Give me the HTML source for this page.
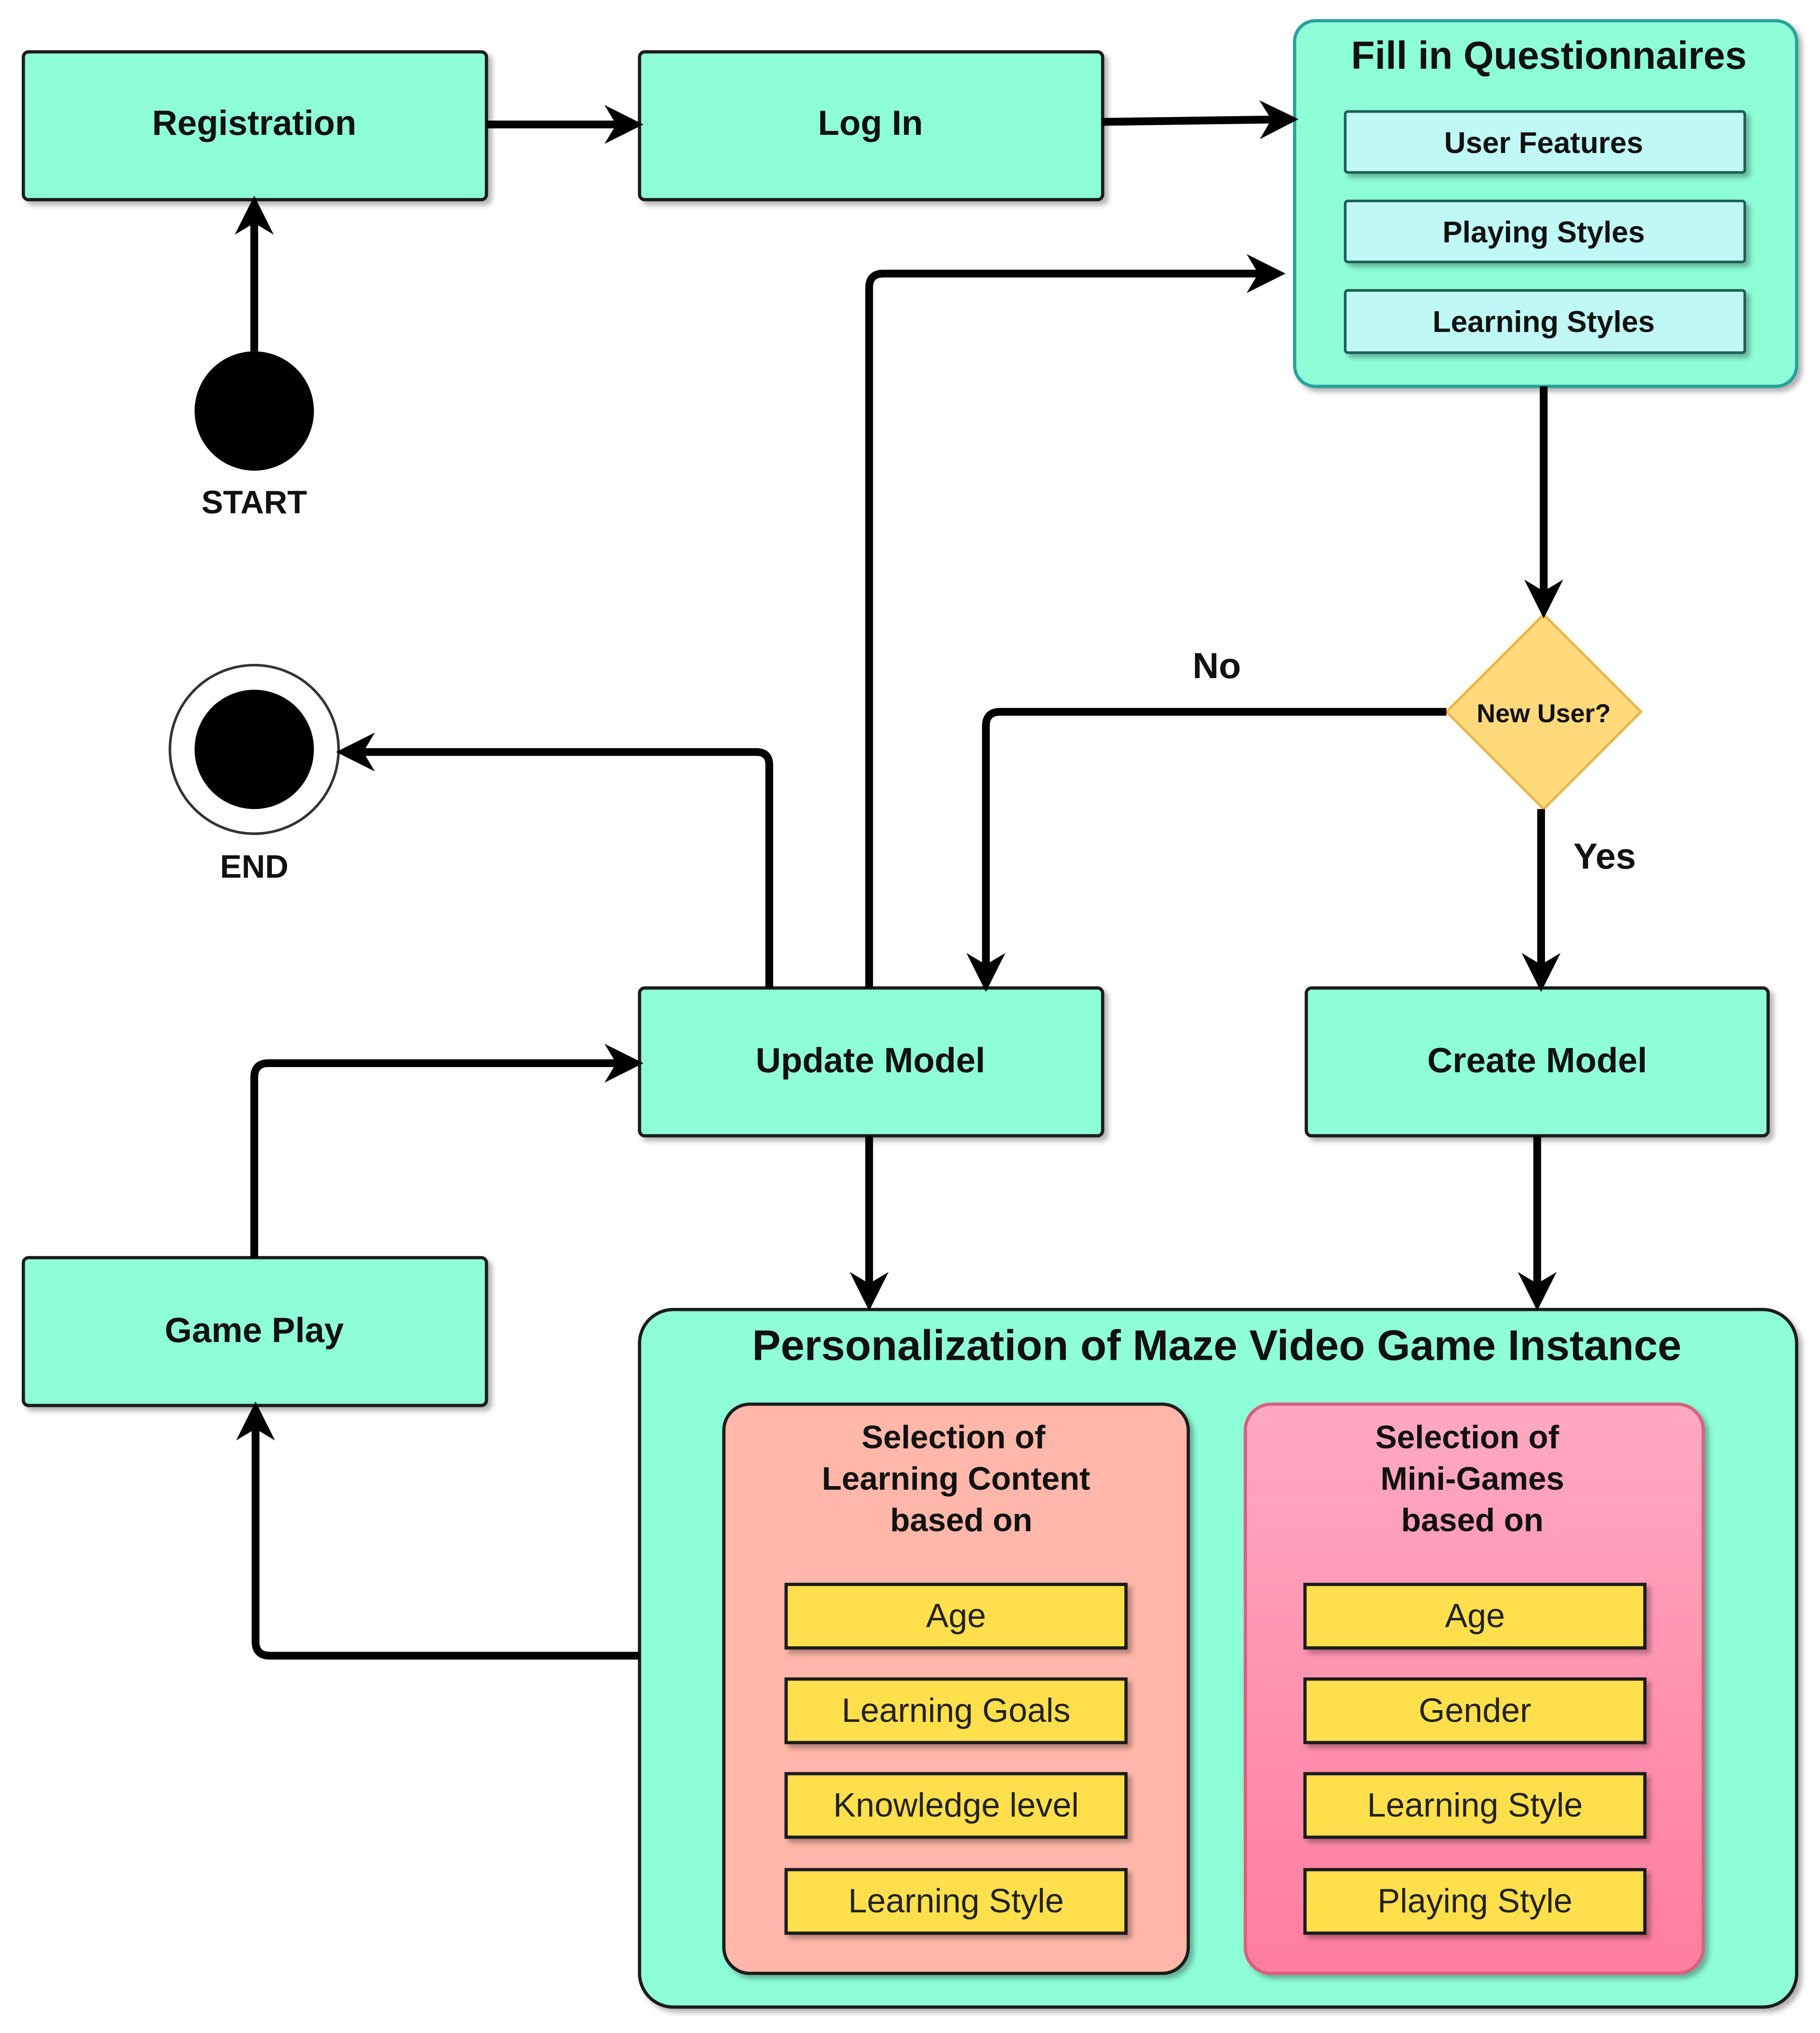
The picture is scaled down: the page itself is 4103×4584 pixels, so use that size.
<!DOCTYPE html>
<html><head><meta charset="utf-8"><style>html,body{margin:0;padding:0;background:#fff}svg{display:block}</style></head><body>
<svg width="4103" height="4584" viewBox="0 0 1403 1568" preserveAspectRatio="none" xmlns="http://www.w3.org/2000/svg" font-family="Liberation Sans, sans-serif">
<defs>
<marker id="a" viewBox="0 0 10 10" refX="8" refY="5" markerWidth="5" markerHeight="5" orient="auto" markerUnits="strokeWidth"><path d="M0,0 L10,5 L0,10 L3,5 z" fill="#000"/></marker>
<linearGradient id="pk" x1="0" y1="0" x2="0" y2="1"><stop offset="0" stop-color="#ffa9c1"/><stop offset="1" stop-color="#ff7d9e"/></linearGradient>
<filter id="s" x="-5%" y="-5%" width="112%" height="120%"><feDropShadow dx="3" dy="3" stdDeviation="2" flood-color="#000" flood-opacity="0.3"/></filter>
</defs>
<g filter="url(#s)" stroke="#1a1a1a" stroke-width="2.5" fill="#8efed8">
<rect x="18" y="40" width="357" height="114" rx="4"/>
<rect x="493" y="40" width="357" height="114" rx="4"/>
<rect x="493" y="762" width="357" height="114" rx="4"/>
<rect x="1007" y="762" width="356" height="114" rx="4"/>
<rect x="18" y="970" width="357" height="114" rx="4"/>
<rect x="493" y="1010" width="892" height="538" rx="26"/>
<rect x="998" y="16" width="387" height="282" rx="16" stroke="#27a399"/>
</g>
<g filter="url(#s)" stroke="#1d5e55" stroke-width="2" fill="#bff8f4">
<rect x="1037" y="86" width="308" height="47" rx="2"/>
<rect x="1037" y="155" width="308" height="47" rx="2"/>
<rect x="1037" y="224" width="308" height="48" rx="2"/>
</g>
<g filter="url(#s)" stroke="#1a1a1a" stroke-width="2.5">
<rect x="558" y="1083" width="358" height="439" rx="20" fill="#feb7a8"/>
<rect x="960" y="1083" width="353" height="439" rx="20" fill="url(#pk)" stroke="#d9607e"/>
</g>
<g filter="url(#s)" stroke="#1a1a1a" stroke-width="2.5" fill="#ffdf4c">
<rect x="606" y="1222" width="262" height="49"/><rect x="606" y="1295" width="262" height="49"/><rect x="606" y="1368" width="262" height="49"/><rect x="606" y="1442" width="262" height="49"/>
<rect x="1006" y="1222" width="262" height="49"/><rect x="1006" y="1295" width="262" height="49"/><rect x="1006" y="1368" width="262" height="49"/><rect x="1006" y="1442" width="262" height="49"/>
</g>
<polygon points="1190,474 1265,549 1190,624 1115,549" fill="#ffd97a" stroke="#e8b84a" stroke-width="2"/>
<circle cx="196" cy="317" r="46" fill="#000"/>
<circle cx="196" cy="578" r="65" fill="#fff" stroke="#333" stroke-width="2"/>
<circle cx="196" cy="578" r="46" fill="#000"/>
<g stroke="#000" stroke-width="6" fill="none" marker-end="url(#a)" stroke-linejoin="round">
<path d="M375,96 H490"/>
<path d="M850,94 L995,92"/>
<path d="M196,271 V157"/>
<path d="M670,762 V222 Q670,211 681,211 H985"/>
<path d="M593,762 V590 Q593,580 583,580 H265"/>
<path d="M1190,298 V471"/>
<path d="M1115,549 H771 Q760,549 760,560 V759"/>
<path d="M1188,624 V759"/>
<path d="M670,876 V1005"/>
<path d="M1185,876 V1005"/>
<path d="M196,970 V831 Q196,820 207,820 H490"/>
<path d="M493,1277 H208 Q197,1277 197,1266 V1087"/>
</g>
<g font-weight="bold" text-anchor="middle" fill="#111" font-size="27">
<text x="196" y="104">Registration</text>
<text x="671" y="104">Log In</text>
<text x="671" y="827">Update Model</text>
<text x="1185" y="827">Create Model</text>
<text x="196" y="1035">Game Play</text>
<text x="1194" y="53" font-size="30">Fill in Questionnaires</text>
<text x="1190" y="118" font-size="23">User Features</text>
<text x="1190" y="187" font-size="23">Playing Styles</text>
<text x="1190" y="256" font-size="23">Learning Styles</text>
<text x="196" y="396" font-size="25">START</text>
<text x="196" y="677" font-size="25">END</text>
<text x="1190" y="557" font-size="20">New User?</text>
<text x="938" y="523" font-size="28">No</text>
<text x="1237" y="670" font-size="28">Yes</text>
<text x="938" y="1049" font-size="33">Personalization of Maze Video Game Instance</text>
<text x="735" y="1117" font-size="25">Selection of</text>
<text x="737" y="1149" font-size="25">Learning Content</text>
<text x="741" y="1181" font-size="25">based on</text>
<text x="1131" y="1117" font-size="25">Selection of</text>
<text x="1135" y="1149" font-size="25">Mini-Games</text>
<text x="1135" y="1181" font-size="25">based on</text>
</g>
<g text-anchor="middle" fill="#222" font-size="26">
<text x="737" y="1255">Age</text><text x="737" y="1328">Learning Goals</text><text x="737" y="1401">Knowledge level</text><text x="737" y="1475">Learning Style</text>
<text x="1137" y="1255">Age</text><text x="1137" y="1328">Gender</text><text x="1137" y="1401">Learning Style</text><text x="1137" y="1475">Playing Style</text>
</g>
</svg>
</body></html>
